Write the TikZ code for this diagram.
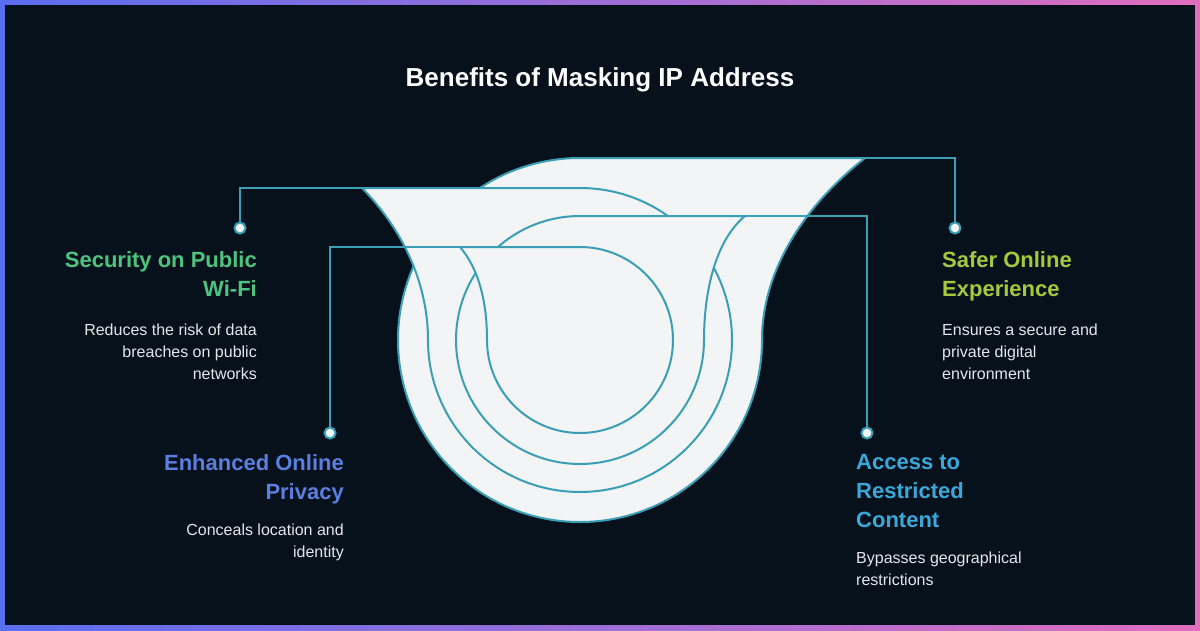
\documentclass[tikz,border=0pt]{standalone}
\usepackage{fontspec}
\setmainfont{Liberation Sans}
\definecolor{bg}{HTML}{06111B}
\definecolor{teal}{HTML}{3A9FB5}
\definecolor{paper}{HTML}{F2F4F5}
\definecolor{cgreen}{HTML}{4CC47F}
\definecolor{cyell}{HTML}{A4C93B}
\definecolor{cblue}{HTML}{5B7FE0}
\definecolor{ccyan}{HTML}{3AA8D8}
\definecolor{desc}{HTML}{E4E7EA}
\begin{document}
\begin{tikzpicture}[x=1pt,y=-1pt,
  ribbon/.style={fill=paper,draw=teal,line width=2pt,line join=round},
  conn/.style={draw=teal,line width=2pt},
  dotc/.style={circle,fill=paper,draw=teal,line width=2pt,minimum size=11pt,inner sep=0pt},
  head/.style={font=\fontsize{22}{29}\selectfont\bfseries,inner sep=0pt},
  body/.style={font=\fontsize{16}{22}\selectfont,text=desc,inner sep=0pt}]
\useasboundingbox (0,0) rectangle (1200,630);
\shade[left color={rgb,255:red,90;green,110;blue,240},right color={rgb,255:red,225;green,110;blue,190}] (0,0) rectangle (1200,630);
\fill[bg] (5,5) rectangle (1195,625);
\node[font=\fontsize{26}{30}\selectfont\bfseries,text=white] (title) at (600,80) {Benefits of Masking IP Address};
% ribbons
\draw[ribbon] (580,158) -- (865,158) .. controls (805,205) and (762,270) .. (762,340) arc[start angle=0,end angle=270,radius=182] -- cycle;
\draw[ribbon] (580,188) -- (362,188) .. controls (408,235) and (428,290) .. (428,340) arc[start angle=180,end angle=-90,radius=152] -- cycle;
\draw[ribbon] (580,216) -- (745,216) .. controls (716,240) and (704,290) .. (704,340) arc[start angle=0,end angle=270,radius=124] -- cycle;
\draw[ribbon] (580,247) -- (460,247) .. controls (478,268) and (487,300) .. (487,340) arc[start angle=180,end angle=-90,radius=93] -- cycle;
% anchors of ribbons
\coordinate (bA) at (865,158);
\coordinate (bB) at (362,188);
\coordinate (bC) at (745,216);
\coordinate (bD) at (460,247);
% dots
\node[dotc] (d1) at (240,228) {};
\node[dotc] (d2) at (955,228) {};
\node[dotc] (d3) at (330,433) {};
\node[dotc] (d4) at (867,433) {};
\draw[conn] (d1.north) |- (bB);
\draw[conn] (d2.north) |- (bA);
\draw[conn] (d3.north) |- (bD);
\draw[conn] (d4.north) |- (bC);
% texts
\node[head,text=cgreen,align=right,anchor=north east] (h1) at (257,251) {Security on Public\\Wi-Fi};
\node[body,align=right,anchor=north east] (b1) at (257,324) {Reduces the risk of data\\breaches on public\\networks};
\node[head,text=cyell,align=left,anchor=north west] (h2) at (942,251) {Safer Online\\Experience};
\node[body,align=left,anchor=north west] (b2) at (942,324) {Ensures a secure and\\private digital\\environment};
\node[head,text=cblue,align=right,anchor=north east] (h3) at (344,454) {Enhanced Online\\Privacy};
\node[body,align=right,anchor=north east] (b3) at (344,524) {Conceals location and\\identity};
\node[head,text=ccyan,align=left,anchor=north west] (h4) at (856,454) {Access to\\Restricted\\Content};
\node[body,align=left,anchor=north west] (b4) at (856,552) {Bypasses geographical\\restrictions};
\end{tikzpicture}
\end{document}
